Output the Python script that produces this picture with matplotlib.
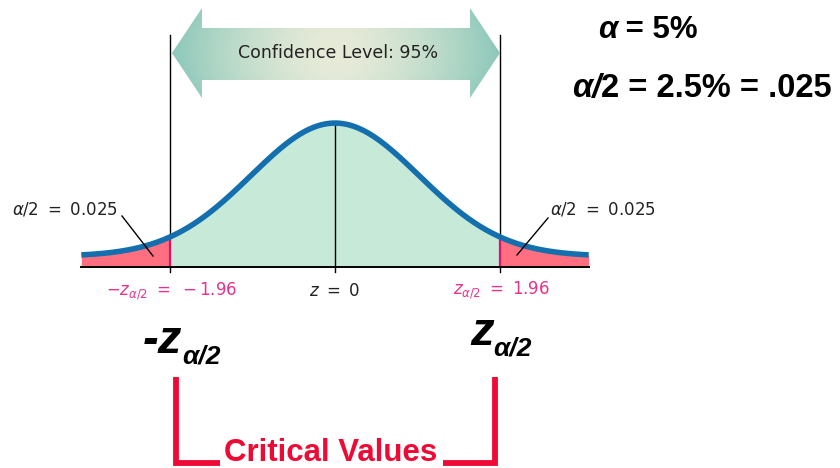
import numpy as np
import matplotlib.pyplot as plt
from matplotlib.patches import Polygon
from matplotlib.colors import LinearSegmentedColormap

# values shown in the chart
alpha = 0.05
z_crit = 1.96
z_min, z_max = -3.02, 3.02
lift = 0.032          # drawn tails sit slightly above the axis

conf_label = "Confidence Level: 95%"
tail_label = r"$\alpha/2\ =\ \mathit{0.025}$"
left_crit_label = r"$-z_{\alpha/2}\ =\ -\mathit{1.96}$"
right_crit_label = r"$z_{\alpha/2}\ =\ \mathit{1.96}$"
center_label = r"$z\ =\ \mathit{0}$"
crit_title = "Critical Values"

GREEN = "#c6e9d8"
PINK = "#ff6f7f"
MAGENTA = "#e8338a"
BLUE = "#136fae"
RED = "#ee0a35"


def pdf(x):
    return np.exp(-x ** 2 / 2) / np.sqrt(2 * np.pi) + lift


fig = plt.figure(figsize=(8.4, 4.68), dpi=100)

# curve axes: z units horizontally, density vertically
ax = fig.add_axes([0, 0, 1, 1])
ax.set_xlim(-335 / 84, 505 / 84)
ax.set_ylim(-201 / 334, 267 / 334)
ax.axis("off")

z_mid = np.linspace(-z_crit, z_crit, 400)
z_left = np.linspace(z_min, -z_crit, 100)
z_right = np.linspace(z_crit, z_max, 100)
z_all = np.linspace(z_min, z_max, 600)

ax.fill_between(z_mid, 0, pdf(z_mid), color=GREEN, lw=0)
ax.fill_between(z_left, 0, pdf(z_left), color=PINK, lw=0)
ax.fill_between(z_right, 0, pdf(z_right), color=PINK, lw=0)

top = 232 / 334
tick = -5 / 334
for zc in (-z_crit, z_crit):
    ax.plot([zc, zc], [0, pdf(zc)], color="#e0106a", lw=1.6, zorder=3)
    ax.plot([zc, zc], [pdf(zc), top], color="black", lw=1.0, zorder=3)
    ax.plot([zc, zc], [tick, 0], color="black", lw=1.0, zorder=3)
ax.plot([0, 0], [tick, pdf(0)], color="black", lw=1.0, zorder=3)

ax.plot([z_min, z_max], [0, 0], color="black", lw=1.4, zorder=4)
ax.plot(z_all, pdf(z_all), color=BLUE, lw=4, solid_capstyle="butt", zorder=5)

# overlay in pixel units for the annotations
ov = fig.add_axes([0, 0, 1, 1])
ov.set_xlim(0, 840)
ov.set_ylim(468, 0)
ov.axis("off")
ov.patch.set_alpha(0)

# double arrow with a soft gradient
arrow = Polygon([(172, 53), (202, 8), (202, 28), (470, 28), (470, 8), (500, 53),
                 (470, 98), (470, 80), (202, 80), (202, 98)],
                closed=True, facecolor="none", edgecolor="none")
ov.add_patch(arrow)
t = np.linspace(-1, 1, 400)
yy = np.linspace(-1, 1, 100)[:, None]
grad = np.clip(np.abs(t)[None, :] ** 1.6 + 0.15 * yy ** 2, 0, 1)
cmap = LinearSegmentedColormap.from_list("arr", ["#e7ebd8", "#8cc8ba"])
im = ov.imshow(grad, extent=[172, 500, 98, 8], cmap=cmap, aspect="auto",
               interpolation="bilinear", zorder=2)
im.set_clip_path(arrow)
ov.set_xlim(0, 840)
ov.set_ylim(468, 0)
ov.text(338, 53, conf_label, ha="center", va="center", fontsize=12.5,
        family="DejaVu Sans", color="#222222", zorder=3)

# tail labels and leaders
ov.text(118, 210, tail_label, ha="right", va="center", fontsize=12, color="#222222")
ov.text(550, 210, tail_label, ha="left", va="center", fontsize=12, color="#222222")
ov.plot([122, 153], [216, 256], color="black", lw=1.0)
ov.plot([548, 517], [218, 255], color="black", lw=1.0)

ov.text(172, 291, left_crit_label, ha="center", va="center", fontsize=12, color=MAGENTA)
ov.text(501, 290, right_crit_label, ha="center", va="center", fontsize=12, color=MAGENTA)
ov.text(335, 291, center_label, ha="center", va="center", fontsize=12, color="#222222")

renderer = fig.canvas.get_renderer()


def runs(x, y, parts):
    # draw text pieces one after another on a shared baseline
    for s, size, style, dy in parts:
        txt = ov.text(x, y + dy, s, fontsize=size, fontweight="bold", fontstyle=style,
                      family="Liberation Sans", ha="left", va="baseline", color="black")
        bb = txt.get_window_extent(renderer)
        x += bb.width


runs(598, 38, [("α", 22.5, "italic", 0), (" = 5%", 22.5, "normal", 0)])
runs(572, 97, [("α/", 23.5, "italic", 0), ("2 = 2.5% = .025", 23.5, "normal", 0)])
runs(143, 353, [("-z", 34, "italic", 0), ("α/2", 19, "italic", 10)])
runs(470, 345, [("z", 34, "italic", 0), ("α/2", 19, "italic", 10)])

# bracket for the critical values
ov.plot([176, 176, 220], [377, 463, 463], color=RED, lw=4.2, solid_joinstyle="miter",
        solid_capstyle="butt")
ov.plot([443, 495, 495], [463, 463, 377], color=RED, lw=4.2, solid_joinstyle="miter",
        solid_capstyle="butt")
ov.text(331, 461, crit_title, ha="center", va="baseline", fontsize=22.5, fontweight="bold",
        family="Liberation Sans", color=RED)

fig.savefig("out.png", dpi=100)
